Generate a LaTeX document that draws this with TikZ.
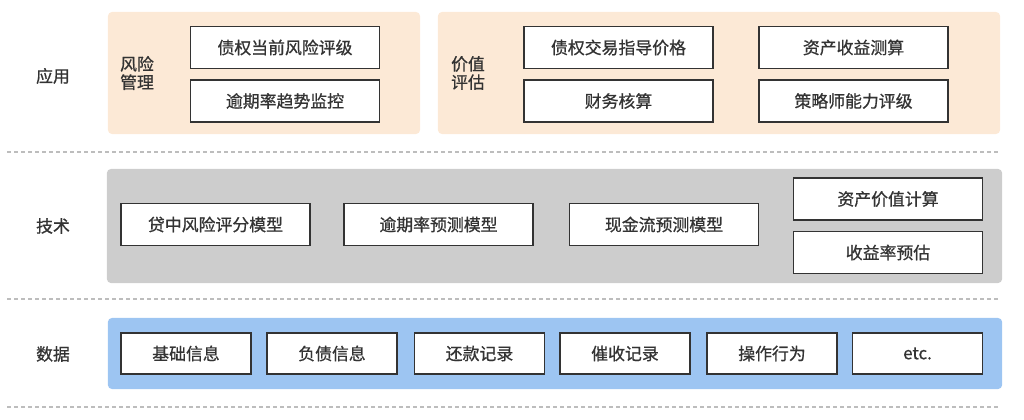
\documentclass[tikz,border=0pt]{standalone}
\usepackage{fontspec}
\setmainfont{Noto Sans CJK SC}[FakeBold=0.8]
\usepackage{tikz}
\usetikzlibrary{positioning}

\definecolor{peach}{HTML}{FCE9D6}
\definecolor{panelgray}{HTML}{CDCDCD}
\definecolor{skyblue}{HTML}{9DC5F2}
\definecolor{inkgray}{HTML}{333333}
\definecolor{sepgray}{HTML}{BDBDBD}

\begin{document}
\begin{tikzpicture}[
        x=0.025cm, y=-0.025cm,
        every node/.style={font=\fontsize{12}{15}\selectfont, text=inkgray},
        panel/.style={rectangle, rounded corners=0.1cm, inner sep=0pt},
        item/.style={rectangle, draw=inkgray, line width=1.3pt, fill=white, minimum width=4.725cm, minimum height=1.05cm, inner sep=0pt},
        dataitem/.style={item, minimum width=3.25cm, minimum height=1.025cm},
        layer/.style={align=center},
        separator/.style={sepgray, line width=0.8pt, dash pattern=on 0.1cm off 0.075cm}
    ]
%
    \useasboundingbox (0,0) rectangle (1024,420);
%
    % Layer panels
    \node[panel, fill=peach, minimum width=7.8cm, minimum height=3.05cm] (riskpanel) at (264,73) {};
    \node[panel, fill=peach, minimum width=14.05cm, minimum height=3.05cm] (valuepanel) at (719,73) {};
    \node[panel, fill=panelgray, minimum width=22.375cm, minimum height=2.85cm] (techpanel) at (554.5,226) {};
    \node[panel, fill=skyblue, minimum width=22.35cm, minimum height=1.775cm] (datapanel) at (555,353.5) {};
%
    % Separators
    \draw[separator] (7,152) -- (998,152);
    \draw[separator] (7,299) -- (998,299);
    \draw[separator] (7,407) -- (998,407);
%
    % Layer labels
    \node[layer] (app) at (53,76) {应用};
    \node[layer] (tech) at (53,226) {技术};
    \node[layer] (data) at (53,354) {数据};
    \node[layer, inner sep=0pt] (risk) at (137,73) {风险\\[-2pt]管理};
    \node[layer, inner sep=0pt] (value) at (468,73) {价值\\[-2pt]评估};
%
    % Application layer
    \node[item] (riskgrade) at (285,47.5) {债权当前风险评级};
    \node[item] (overduetrend) at (285,101) {逾期率趋势监控};
    \node[item] (tradeprice) at (618.5,47.5) {债权交易指导价格};
    \node[item] (accounting) at (618.5,101) {财务核算};
    \node[item] (yieldcalc) at (853.5,47.5) {资产收益测算};
    \node[item] (strategist) at (853.5,101) {策略师能力评级};
%
    % Technology layer
    \node[item] (scoremodel) at (215.5,224.5) {贷中风险评分模型};
    \node[item] (overduemodel) at (438.5,224.5) {逾期率预测模型};
    \node[item] (cashmodel) at (664,224.5) {现金流预测模型};
    \node[item] (assetvalue) at (888,199) {资产价值计算};
    \node[item] (yieldest) at (888,252.5) {收益率预估};
%
    % Data layer
    \node[dataitem] (basic) at (186,353.5) {基础信息};
    \node[dataitem] (debt) at (332,353.5) {负债信息};
    \node[dataitem] (repay) at (479.5,353.5) {还款记录};
    \node[dataitem] (collect) at (625,353.5) {催收记录};
    \node[dataitem] (action) at (772,353.5) {操作行为};
    \node[dataitem] (etc) at (917.5,353.5) {etc.};
%
\end{tikzpicture}
\end{document}
